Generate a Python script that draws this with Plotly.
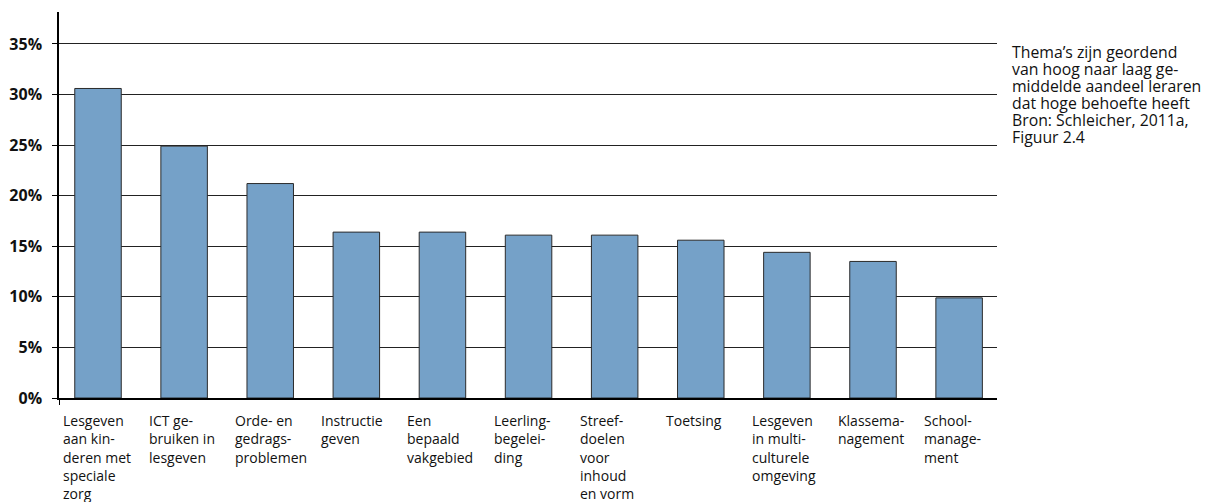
import plotly.graph_objects as go

categories = [
    ["Lesgeven", "aan kin-", "deren met", "speciale", "zorg"],
    ["ICT ge-", "bruiken in", "lesgeven"],
    ["Orde- en", "gedrags-", "problemen"],
    ["Instructie", "geven"],
    ["Een", "bepaald", "vakgebied"],
    ["Leerling-", "begelei-", "ding"],
    ["Streef-", "doelen", "voor", "inhoud", "en vorm"],
    ["Toetsing"],
    ["Lesgeven", "in multi-", "culturele", "omgeving"],
    ["Klassema-", "nagement"],
    ["School-", "manage-", "ment"],
]
values = [30.6, 24.9, 21.2, 16.4, 16.4, 16.1, 16.1, 15.6, 14.4, 13.5, 9.9]
tick_values = [0, 5, 10, 15, 20, 25, 30, 35]
tick_labels = [f"{v}%" for v in tick_values]
note_lines = [
    "Thema’s zijn geordend",
    "van hoog naar laag ge-",
    "middelde aandeel leraren",
    "dat hoge behoefte heeft",
    "Bron: Schleicher, 2011a,",
    "Figuur 2.4",
]

FONT = "Open Sans"
xs = list(range(len(values)))

fig = go.Figure()
fig.add_trace(go.Bar(
    x=xs, y=values, width=0.54,
    marker=dict(color="#75A1C8", line=dict(color="#2b2b2b", width=1)),
    hoverinfo="skip",
))

for i, lines in enumerate(categories):
    for k, line in enumerate(lines):
        fig.add_annotation(
            x=i, y=0, xref="x", yref="y", text=line, showarrow=False,
            xanchor="left", yanchor="middle", align="left",
            xshift=-37, yshift=-(22.7 + 18.2 * k),
            font=dict(family=FONT, size=14, color="#111"),
        )

for k, line in enumerate(note_lines):
    fig.add_annotation(
        x=1.0, y=1.0, xref="paper", yref="paper", text=line, showarrow=False,
        xanchor="left", yanchor="middle", align="left",
        xshift=13, yshift=-(39.5 + 17.0 * k),
        font=dict(family=FONT, size=15.8, color="#111"),
    )

fig.update_layout(
    width=1201, height=494,
    margin=dict(l=51, r=212, t=4, b=104),
    paper_bgcolor="white", plot_bgcolor="white",
    showlegend=False,
)
fig.update_xaxes(
    range=[-0.453, 10.44], tickvals=[-0.453], ticktext=[""], showgrid=False,
    ticks="outside", ticklen=5, tickcolor="black", automargin=False,
    zeroline=False, showline=True, linecolor="black", linewidth=1.5,
)
fig.update_yaxes(
    range=[0, 38.16], tickvals=tick_values, ticktext=tick_labels,
    showgrid=True, gridcolor="#222", gridwidth=1, automargin=False,
    zeroline=False, showline=True, linecolor="black", linewidth=1.5,
    ticks="outside", ticklen=5, tickcolor="black", ticklabelstandoff=7,
    tickfont=dict(family=FONT, size=16, color="#111", weight="bold"),
)

fig.write_html("out.html")
